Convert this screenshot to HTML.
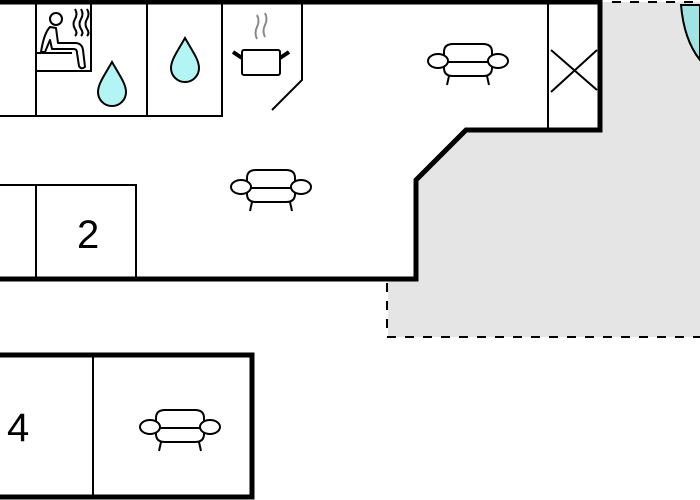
<!DOCTYPE html>
<html><head><style>body{margin:0;background:#fff}svg{display:block}</style></head><body>
<svg width="700" height="500" viewBox="0 0 700 500" xmlns="http://www.w3.org/2000/svg">
<defs>
<g id="sofa" fill="#fff" stroke="#000" stroke-width="2">
<path d="M-24,1 V-9 Q-24,-17 -15,-17 H15 Q24,-17 24,-9 V1 Z"/>
<path d="M-24,1 V7 Q-24,15 -15,15 H15 Q24,15 24,7 V1 Z"/>
<ellipse cx="-30" cy="0" rx="10" ry="7"/>
<ellipse cx="30" cy="0" rx="10" ry="7"/>
<line x1="-19" y1="15" x2="-21" y2="24"/>
<line x1="19" y1="15" x2="21" y2="24"/>
</g>
<path id="drop" d="M0,-26 C-8,-12 -14,-4 -14,4 A14,14 0 0 0 14,4 C14,-4 8,-12 0,-26 Z" fill="#b3f4f4" stroke="#000" stroke-width="2"/>
</defs>
<path d="M600,2 H700 V337 H388 V279 H416 V180 L466,130 H600 Z" fill="#e5e5e5"/>
<path d="M612,2 H700" stroke="#000" stroke-width="2" stroke-dasharray="9,9"/>
<path d="M387,283 V337 H700" fill="none" stroke="#000" stroke-width="2" stroke-dasharray="9,9"/>
<path d="M681,5 H700 V60 Q684,40 681,5 Z" fill="#9fe3e3" stroke="#000" stroke-width="2"/>
<g stroke="#000" stroke-width="2" fill="none">
<path d="M0,116 H222 V2"/>
<path d="M36,2 V116 M147,2 V116"/>
<path d="M36,71 H91 V2"/>
<path d="M302,2 V80 L272,110"/>
<path d="M548,2 V130"/>
<path d="M551,50 L597,90 M551,92 L597,50"/>
<path d="M36,279 V185 H136 V279 M0,185 H36"/>
<path d="M93,355 V497"/>
</g>
<g stroke="#000" stroke-width="5" fill="none">
<path d="M0,2 H600 V130 H466 L416,180 V279 H0"/>
<path d="M0,355 H252 V497 H0"/>
</g>
<g stroke="#000" stroke-width="2" fill="none" stroke-linejoin="round">
<circle cx="56" cy="19" r="6"/>
<path d="M50,27 Q44,33 41,52 H45 L50,40 L52,49 H74 Q77,49 77,53 L79,66 Q81,70 85,67 L83,50 Q82,43 75,43 H58 L56,28 Z"/>
<path d="M36,53 H72"/>
<path d="M75,9 q3,5 0,10 q-3,5 0,10 q3,4 0,7 M81,9 q3,5 0,10 q-3,5 0,10 q3,4 0,7 M87,9 q3,5 0,10 q-3,5 0,10 q3,4 0,7"/>
</g>
<use href="#drop" x="112" y="88"/>
<use href="#drop" x="185" y="64"/>
<g stroke="#000" stroke-width="2" fill="#fff">
<rect x="242" y="50" width="38" height="25" rx="2"/>
<path d="M242,58 L233,52 M280,58 L289,52" stroke-width="4"/>
</g>
<path d="M257,15 q3,6 0,12 q-3,6 0,12 M265,13 q3,6 0,12 q-3,6 0,12" stroke="#888" stroke-width="2" fill="none"/>
<use href="#sofa" x="468" y="61"/>
<use href="#sofa" x="271" y="187"/>
<use href="#sofa" x="180" y="427"/>
<g font-family="Liberation Sans, sans-serif" font-size="40" fill="#000">
<text x="77" y="248">2</text>
<text x="7" y="441">4</text>
</g>
</svg>
</body></html>
